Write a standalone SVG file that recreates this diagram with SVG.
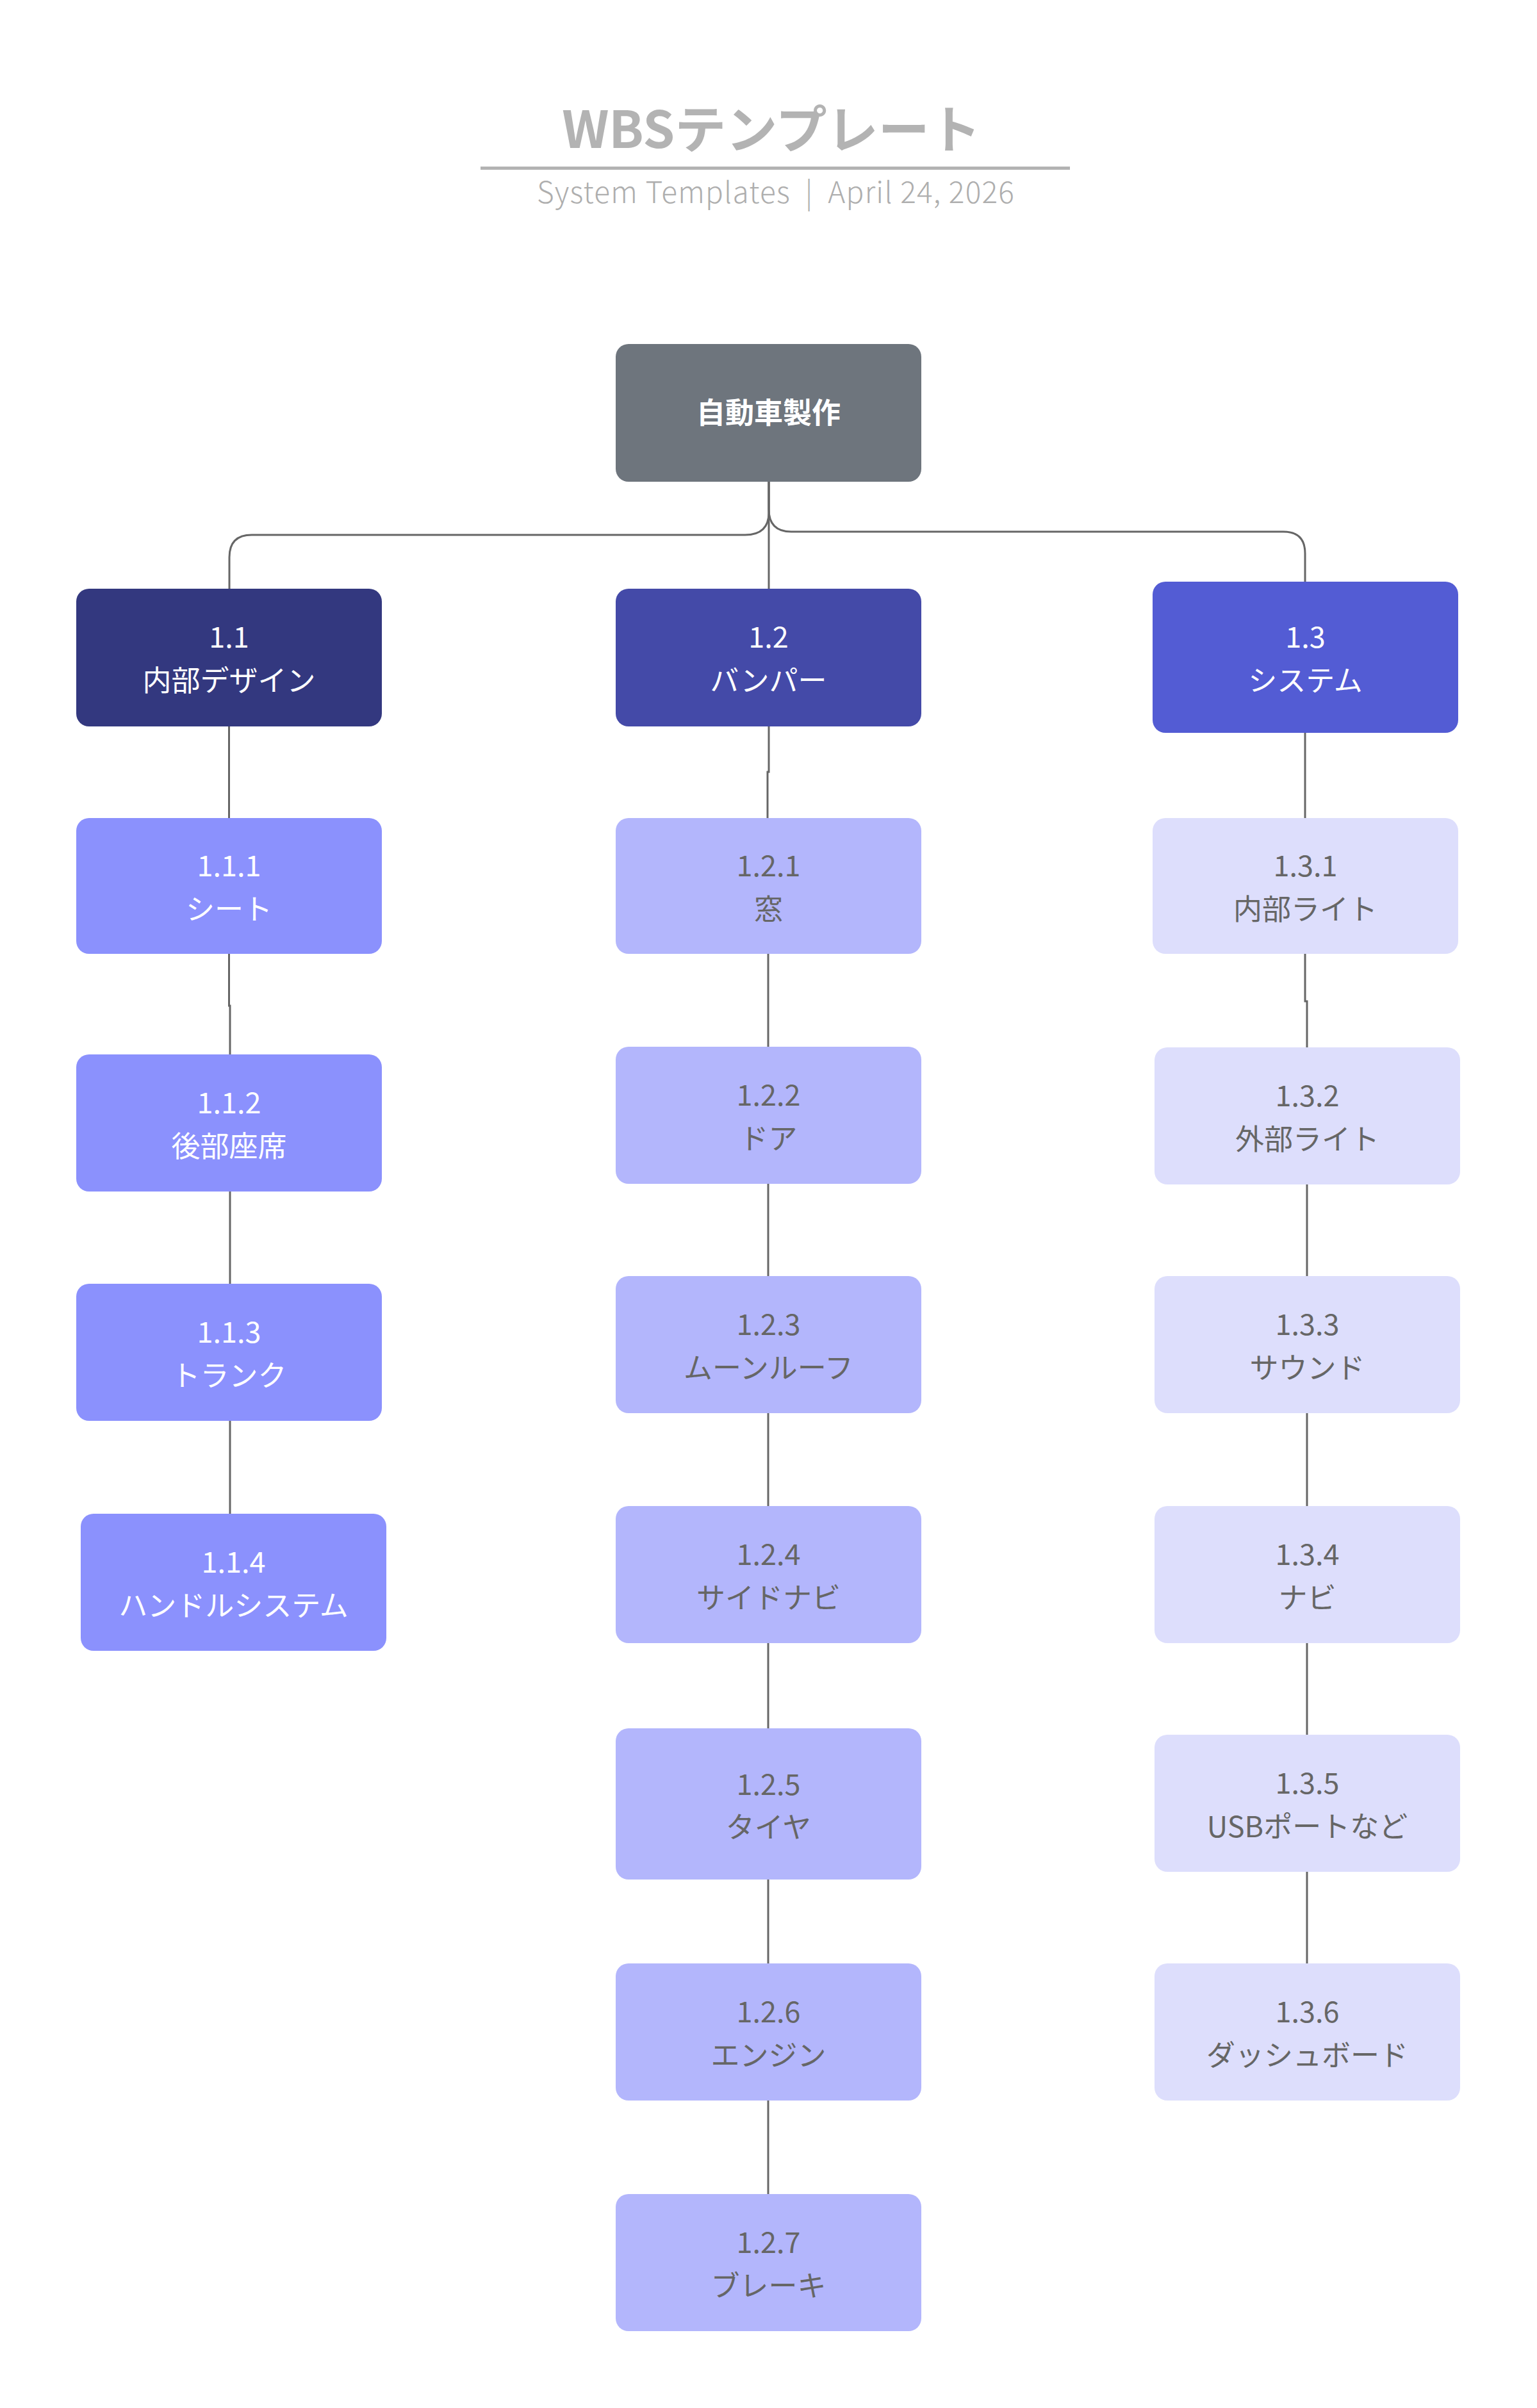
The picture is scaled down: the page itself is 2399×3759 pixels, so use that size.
<svg xmlns="http://www.w3.org/2000/svg" width="2399" height="3759" viewBox="0 0 2399 3759">
<style>
.t{font-family:"Noto Sans CJK JP","Noto Sans",sans-serif;text-anchor:middle;font-size:45px;}
.w{fill:#ffffff;}
.g{fill:#666666;}
.c{fill:none;stroke:#666666;stroke-width:3;}
.l1{fill:#8b91fd;}
.l2{fill:#b3b6fc;}
.l3{fill:#dddefc;}
</style>
<rect x="0" y="0" width="2399" height="3759" fill="#ffffff"/>
<g id="header">
<text x="1204" y="231" font-family="Noto Sans CJK JP, Noto Sans, sans-serif" font-weight="700" font-size="80" fill="#b3b3b3" text-anchor="middle">WBSテンプレート</text>
<rect x="750" y="260" width="920" height="5" fill="#b3b3b3"/>
<text x="1211" y="317" font-family="Noto Sans CJK JP, Noto Sans, sans-serif" font-weight="300" font-size="46" letter-spacing="1.2" fill="#aeaeae" text-anchor="middle" xml:space="preserve">System Templates  |  April 24, 2026</text>
</g>
<g id="connectors">
<path class="c" d="M1200,752 V800 Q1200,835 1163,835 H393 Q358,835 358,870 V919"/>
<path class="c" d="M1200,752 V795 Q1200,830 1235,830 H2003 Q2037,830 2037,864 V908"/>
<path class="c" d="M1200,752 V919"/>
<path class="c" d="M357.5,1134 V1570 H359 V1646"/>
<path class="c" d="M359,1860 V2004"/>
<path class="c" d="M359,2218 V2363"/>
<path class="c" d="M1200,1134 V1205 H1198 V1277"/>
<path class="c" d="M1199,1489 V1634"/>
<path class="c" d="M1199,1848 V1992"/>
<path class="c" d="M1199,2206 V2351"/>
<path class="c" d="M1199,2565 V2698"/>
<path class="c" d="M1199,2934 V3065"/>
<path class="c" d="M1199,3279 V3425"/>
<path class="c" d="M2037,1144 V1277"/>
<path class="c" d="M2037,1489 V1563 H2040 V1635"/>
<path class="c" d="M2040,1849 V1992"/>
<path class="c" d="M2040,2206 V2351"/>
<path class="c" d="M2040,2565 V2708"/>
<path class="c" d="M2040,2922 V3065"/>
</g>
<g id="root">
<rect x="961" y="537" width="477" height="215" rx="20" fill="#6e757d"/>
<text class="t w" x="1199.5" y="661" font-weight="700" font-size="46">自動車製作</text>
</g>
<g id="n1_1">
<rect x="119" y="919" width="477" height="215" rx="20" fill="#33387f"/>
<text class="t w" x="357.5" y="1011">1.1</text>
<text class="t w" x="357.5" y="1079">内部デザイン</text>
</g>
<g id="n1_2">
<rect x="961" y="919" width="477" height="215" rx="20" fill="#444aa8"/>
<text class="t w" x="1199.5" y="1011">1.2</text>
<text class="t w" x="1199.5" y="1079">バンパー</text>
</g>
<g id="n1_3">
<rect x="1799" y="908" width="477" height="236" rx="20" fill="#535cd4"/>
<text class="t w" x="2037.5" y="1011">1.3</text>
<text class="t w" x="2037.5" y="1079">システム</text>
</g>
<g id="n1_1_1">
<rect class="l1" x="119" y="1277" width="477" height="212" rx="20"/>
<text class="t w" x="357.5" y="1368">1.1.1</text>
<text class="t w" x="357.5" y="1436">シート</text>
</g>
<g id="n1_1_2">
<rect class="l1" x="119" y="1646" width="477" height="214" rx="20"/>
<text class="t w" x="357.5" y="1738">1.1.2</text>
<text class="t w" x="357.5" y="1806">後部座席</text>
</g>
<g id="n1_1_3">
<rect class="l1" x="119" y="2004" width="477" height="214" rx="20"/>
<text class="t w" x="357.5" y="2096">1.1.3</text>
<text class="t w" x="357.5" y="2164">トランク</text>
</g>
<g id="n1_1_4">
<rect class="l1" x="126" y="2363" width="477" height="214" rx="20"/>
<text class="t w" x="364.5" y="2455">1.1.4</text>
<text class="t w" x="364.5" y="2523">ハンドルシステム</text>
</g>
<g id="n1_2_1">
<rect class="l2" x="961" y="1277" width="477" height="212" rx="20"/>
<text class="t g" x="1199.5" y="1368">1.2.1</text>
<text class="t g" x="1199.5" y="1436">窓</text>
</g>
<g id="n1_2_2">
<rect class="l2" x="961" y="1634" width="477" height="214" rx="20"/>
<text class="t g" x="1199.5" y="1726">1.2.2</text>
<text class="t g" x="1199.5" y="1794">ドア</text>
</g>
<g id="n1_2_3">
<rect class="l2" x="961" y="1992" width="477" height="214" rx="20"/>
<text class="t g" x="1199.5" y="2084">1.2.3</text>
<text class="t g" x="1199.5" y="2152">ムーンルーフ</text>
</g>
<g id="n1_2_4">
<rect class="l2" x="961" y="2351" width="477" height="214" rx="20"/>
<text class="t g" x="1199.5" y="2443">1.2.4</text>
<text class="t g" x="1199.5" y="2511">サイドナビ</text>
</g>
<g id="n1_2_5">
<rect class="l2" x="961" y="2698" width="477" height="236" rx="20"/>
<text class="t g" x="1199.5" y="2802">1.2.5</text>
<text class="t g" x="1199.5" y="2869">タイヤ</text>
</g>
<g id="n1_2_6">
<rect class="l2" x="961" y="3065" width="477" height="214" rx="20"/>
<text class="t g" x="1199.5" y="3157">1.2.6</text>
<text class="t g" x="1199.5" y="3225">エンジン</text>
</g>
<g id="n1_2_7">
<rect class="l2" x="961" y="3425" width="477" height="214" rx="20"/>
<text class="t g" x="1199.5" y="3517">1.2.7</text>
<text class="t g" x="1199.5" y="3585">ブレーキ</text>
</g>
<g id="n1_3_1">
<rect class="l3" x="1799" y="1277" width="477" height="212" rx="20"/>
<text class="t g" x="2037.5" y="1368">1.3.1</text>
<text class="t g" x="2037.5" y="1436">内部ライト</text>
</g>
<g id="n1_3_2">
<rect class="l3" x="1802" y="1635" width="477" height="214" rx="20"/>
<text class="t g" x="2040.5" y="1727">1.3.2</text>
<text class="t g" x="2040.5" y="1795">外部ライト</text>
</g>
<g id="n1_3_3">
<rect class="l3" x="1802" y="1992" width="477" height="214" rx="20"/>
<text class="t g" x="2040.5" y="2084">1.3.3</text>
<text class="t g" x="2040.5" y="2152">サウンド</text>
</g>
<g id="n1_3_4">
<rect class="l3" x="1802" y="2351" width="477" height="214" rx="20"/>
<text class="t g" x="2040.5" y="2443">1.3.4</text>
<text class="t g" x="2040.5" y="2511">ナビ</text>
</g>
<g id="n1_3_5">
<rect class="l3" x="1802" y="2708" width="477" height="214" rx="20"/>
<text class="t g" x="2040.5" y="2800">1.3.5</text>
<text class="t g" x="2040.5" y="2868">USBポートなど</text>
</g>
<g id="n1_3_6">
<rect class="l3" x="1802" y="3065" width="477" height="214" rx="20"/>
<text class="t g" x="2040.5" y="3157">1.3.6</text>
<text class="t g" x="2040.5" y="3225">ダッシュボード</text>
</g>
</svg>
